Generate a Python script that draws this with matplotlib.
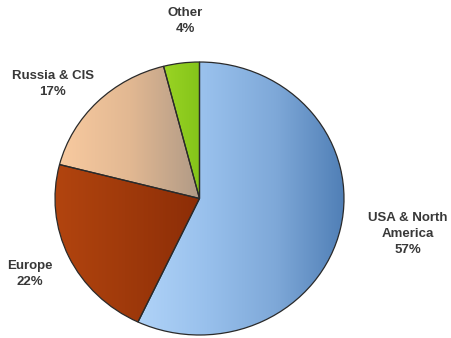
import numpy as np
import matplotlib
matplotlib.use("Agg")
import matplotlib.pyplot as plt
from matplotlib.colors import LinearSegmentedColormap

plt.rcParams['font.family'] = ['Liberation Sans', 'DejaVu Sans']

regions = ["USA & North\nAmerica", "Europe", "Russia & CIS", "Other"]
shares = [57, 22, 17, 4]

# horizontal colour stops for each slice, spread over the slice's own width
gradients = [["#b0d3f8", "#98c0ec", "#7ea8d8", "#4f7eb5"],
             ["#b3450f", "#a03a0b", "#8c2d07"],
             ["#f8caa0", "#e2b892", "#b09a86"],
             ["#9ad424", "#84c41a"]]

W, H = 451, 338
fig = plt.figure(figsize=(W / 100, H / 100), dpi=100)
ax = fig.add_axes([0, 0, 1, 1])

# pie geometry in pixels (slightly wider than tall)
cx_px, cy_px = 199.5, 198.5
rx_px, ry_px = 144.5, 136.5
sy = ry_px / rx_px  # pixels per data unit vertically
cy = (H - cy_px) / sy

wedges, _ = ax.pie(shares, startangle=90, counterclock=False,
                   radius=rx_px, center=(cx_px, cy),
                   wedgeprops=dict(edgecolor="#2a2a2a", linewidth=0.9))

ax.set_xlim(0, W)
ax.set_ylim(0, H / sy)
ax.set_aspect('auto')
ax.axis('off')

ramp = np.linspace(0, 1, 256).reshape(1, -1)
for w, stops in zip(wedges, gradients):
    w.set_facecolor("none")
    verts = w.get_path().vertices
    x0, x1 = verts[:, 0].min(), verts[:, 0].max()
    cmap = LinearSegmentedColormap.from_list("g", stops)
    im = ax.imshow(ramp, cmap=cmap, extent=(x0, x1, cy - rx_px, cy + rx_px),
                   aspect='auto', interpolation='bilinear',
                   zorder=w.get_zorder() - 0.1)
    im.set_clip_path(w)

ax.set_xlim(0, W)
ax.set_ylim(0, H / sy)

# labels placed in pixel coordinates
labels = [("Other\n4%", 185, 21),
          ("Russia & CIS\n17%", 53, 84),
          ("Europe\n22%", 30, 274),
          ("USA & North\nAmerica\n57%", 408, 234)]
for txt, x, y in labels:
    fig.text(x / W, 1 - y / H, txt, ha="center", va="center",
             fontsize=9.5, fontweight="bold", color="#383838",
             linespacing=1.45)

fig.savefig("out.png", dpi=100, facecolor="white")
